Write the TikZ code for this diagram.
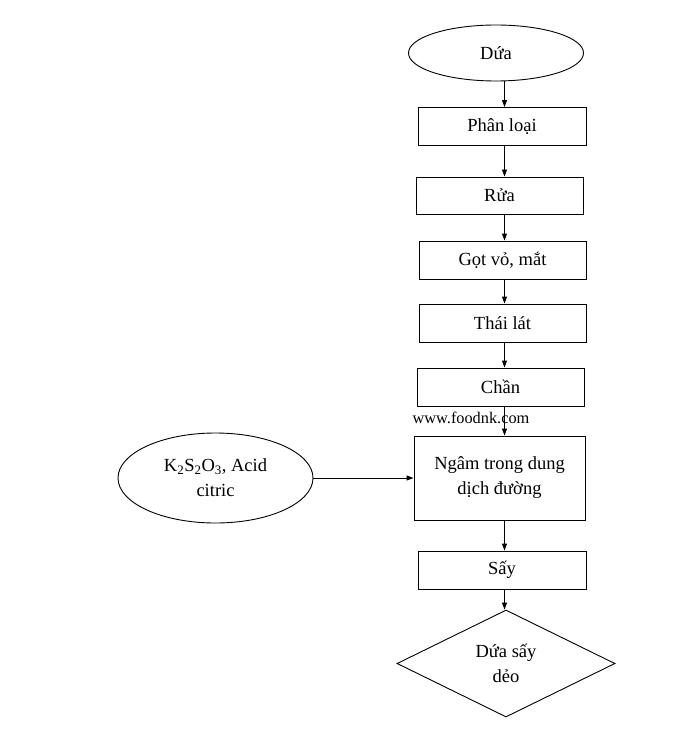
\documentclass[tikz,border=0pt]{standalone}
\usepackage{fontspec}
\setmainfont{Liberation Serif}
\usetikzlibrary{shapes.geometric,arrows.meta}

\begin{document}
\begin{tikzpicture}[x=1pt, y=-1pt,
  box/.style={draw, line width=0.9pt, inner sep=0pt, minimum width=168pt, minimum height=38pt, align=center, font=\fontsize{18.5}{25}\selectfont},
  oval/.style={draw, ellipse, line width=0.9pt, inner sep=0pt, align=center, font=\fontsize{18.5}{25}\selectfont},
  arr/.style={line width=0.9pt, -{Triangle[length=7pt,width=5pt]}}]
  \useasboundingbox (0,0) rectangle (696,735);
  \node[oval, minimum width=175pt, minimum height=56pt] (dua) at (496,53) {Dứa};
  \node[box] (phanloai) at (502,126.5) {Phân loại};
  \node[box, minimum width=167pt, minimum height=37pt] (rua) at (499.5,195.5) {Rửa};
  \node[box, minimum width=167pt] (gotvo) at (502.5,260) {Gọt vỏ, mắt};
  \node[box, minimum width=167pt] (thailat) at (502.5,323) {Thái lát};
  \node[box, minimum width=167pt] (chan) at (500.5,387) {Chần};
  \node[box, minimum width=171pt, minimum height=84pt] (ngam) at (499.5,478) {Ngâm trong dung\\dịch đường};
  \node[oval, minimum width=195pt, minimum height=90pt] (chem) at (215.5,478) {K\textsubscript{2}S\textsubscript{2}O\textsubscript{3}, Acid\\citric};
  \node[box] (say) at (502,570) {Sấy};
  \node[box, diamond, minimum width=218pt, minimum height=107pt] (deo) at (506,663.5) {Dứa sấy\\dẻo};
  \node[inner sep=0pt, font=\fontsize{16.3}{18}\selectfont] (web) at (471,418) {www.foodnk.com};
  \coordinate (spine) at (504.5,0);
  \draw[arr] (dua.south -| spine) -- (phanloai.north -| spine);
  \draw[arr] (phanloai.south -| spine) -- (rua.north -| spine);
  \draw[arr] (rua.south -| spine) -- (gotvo.north -| spine);
  \draw[arr] (gotvo.south -| spine) -- (thailat.north -| spine);
  \draw[arr] (thailat.south -| spine) -- (chan.north -| spine);
  \draw[arr] (chan.south -| spine) -- (ngam.north -| spine);
  \draw[arr] (chem.east) -- (ngam.west);
  \draw[arr] (ngam.south -| spine) -- (say.north -| spine);
  \draw[arr] (say.south -| spine) -- (deo.north -| spine);
\end{tikzpicture}
\end{document}
